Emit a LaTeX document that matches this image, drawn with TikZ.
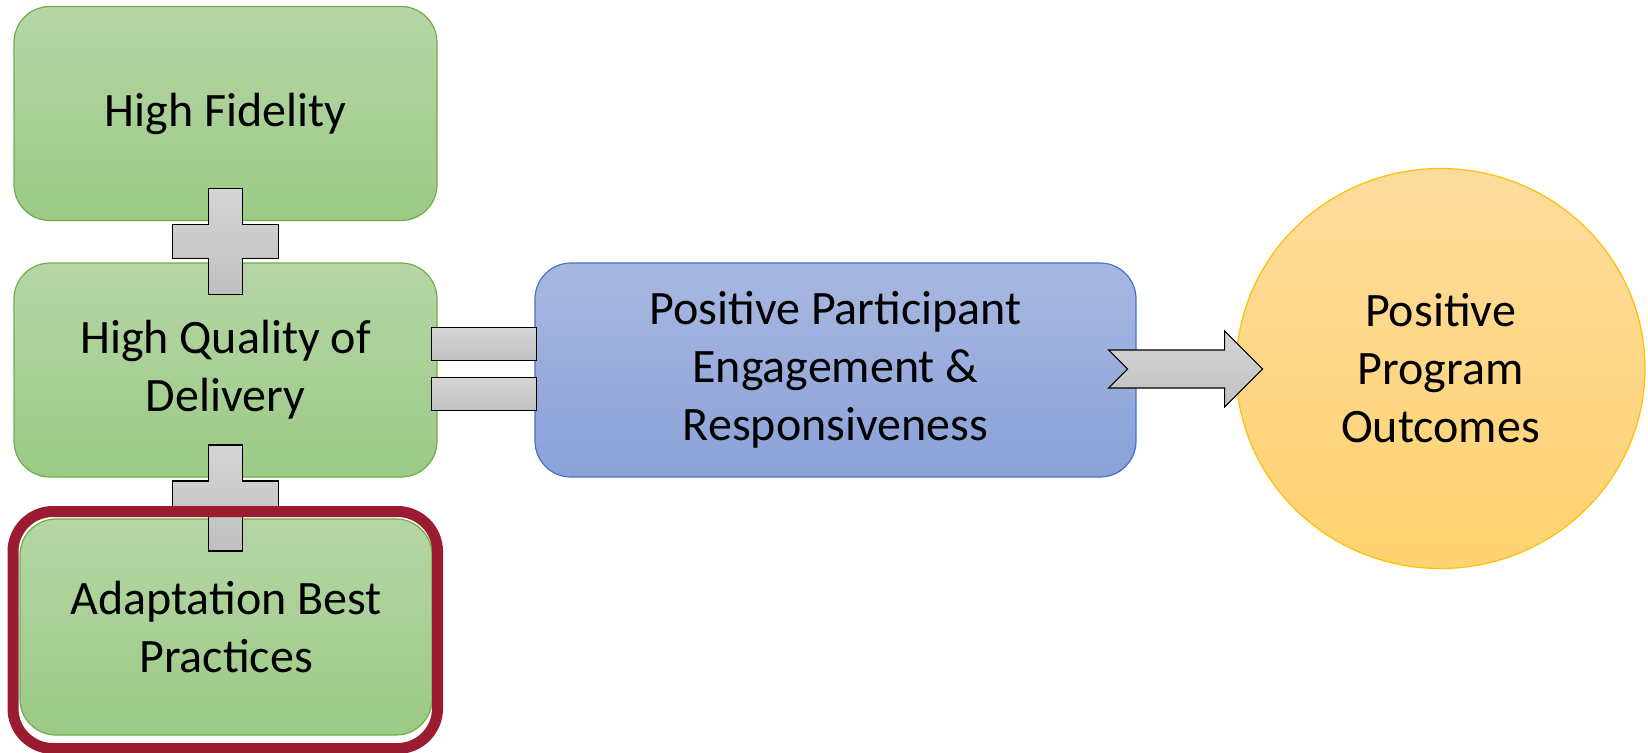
\documentclass[tikz,border=0pt]{standalone}
\usepackage{fontspec}
\setmainfont{Carlito}
\usepackage{tikz}
\usetikzlibrary{shapes.geometric, calc, positioning}

\definecolor{greentop}{HTML}{B5D6A5}
\definecolor{greenbot}{HTML}{9CCA86}
\definecolor{greenline}{HTML}{70AD47}
\definecolor{bluetop}{HTML}{A8B7E0}
\definecolor{bluebot}{HTML}{8AA2D8}
\definecolor{blueline}{HTML}{4472C4}
\definecolor{orangetop}{HTML}{FDDB9C}
\definecolor{orangebot}{HTML}{FFD371}
\definecolor{orangeline}{HTML}{FFC000}
\definecolor{graytop}{HTML}{D5D5D5}
\definecolor{graybot}{HTML}{C0C0C0}
\definecolor{framered}{HTML}{9B1C31}

\begin{document}
\begin{tikzpicture}[
        x=0.5pt, y=-0.5pt,
        every node/.style={font=\fontsize{24}{29}\selectfont, align=center, inner sep=0pt},
        greenbox/.style={draw=greenline, line width=0.6pt, top color=greentop, bottom color=greenbot,
          rounded corners=18pt, minimum width=211.5pt, minimum height=107pt},
        bluebox/.style={draw=blueline, line width=0.6pt, top color=bluetop, bottom color=bluebot,
          rounded corners=18pt, minimum width=300.5pt, minimum height=107pt},
        goalcircle/.style={ellipse, draw=orangeline, line width=0.6pt, top color=orangetop,
          bottom color=orangebot, minimum width=204.5pt, minimum height=200pt},
        graybar/.style={draw=black, line width=0.6pt, top color=graytop, bottom color=graybot},
        redframe/.style={draw=framered, line width=5.5pt, rounded corners=20pt,
          minimum width=212.25pt, minimum height=118.5pt},
        plussign/.pic={
          \draw[graybar] (-17,-53) -- (17,-53) -- (17,-17) -- (53,-17) -- (53,17) -- (17,17)
            -- (17,53) -- (-17,53) -- (-17,17) -- (-53,17) -- (-53,-17) -- (-17,-17) -- cycle;
        }
      ]
      \useasboundingbox[fill=white] (0,0) rectangle (1648,752);

      % left column
      \node[greenbox] (fid) at (225.5,113.5) {High Fidelity};
      \node[greenbox] (qual) at (225.5,370) {High Quality of\\Delivery};
      \node[greenbox, minimum width=206pt, minimum height=108pt] (adapt) at (226,627) {Adaptation Best\\Practices};
      \pic at ($(fid.south)!0.5!(qual.north)$) {plussign};
      \pic at ($(qual.south)!0.5!(adapt.north)$) {plussign};
      \node[redframe] (frame) at (225.25,630) {};

      % middle and right
      \node[bluebox] (eng) at (835.5,370) {Positive Participant\\Engagement \&\\Responsiveness};
      \node[goalcircle] (outc) at (1440.5,368.5) {Positive\\Program\\Outcomes};

      \node[graybar, minimum width=52.5pt, minimum height=16.5pt] (eqtop) at ($(qual.east)!0.5!(eng.west)+(-2,-26)$) {};
      \node[graybar, minimum width=52.5pt, minimum height=16.5pt] (eqbot) at ($(qual.east)!0.5!(eng.west)+(-2,24)$) {};

      \coordinate (arrtail) at ($(eng.east)+(-28,-1)$);
      \draw[graybar] (arrtail) ++(0,-19) -- ++(116,0) -- ++(0,-19) -- ++(38,38) -- ++(-38,38)
        -- ++(0,-19) -- ++(-116,0) -- ++(19,-19) -- cycle;
\end{tikzpicture}
\end{document}
